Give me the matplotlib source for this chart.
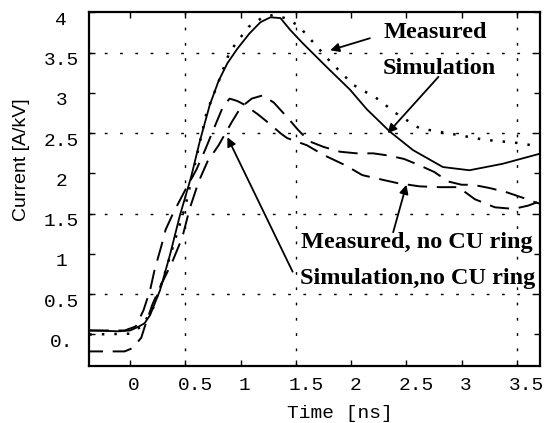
import matplotlib.pyplot as plt
from matplotlib.transforms import ScaledTranslation

# time axis [ns] and current [A/kV] for the four traces
sim_t = [-0.37, -0.1, 0.0, 0.08, 0.13, 0.18, 0.27, 0.36, 0.45, 0.55, 0.63, 0.72,
         0.8, 0.88, 0.97, 1.08, 1.18, 1.27, 1.36, 1.45, 1.56, 1.78, 1.99, 2.14,
         2.35, 2.56, 2.83, 3.07, 3.37, 3.72]
sim_i = [0.05, 0.04, 0.05, 0.10, 0.14, 0.24, 0.55, 0.99, 1.48, 1.95, 2.40, 2.85,
         3.15, 3.37, 3.55, 3.74, 3.88, 3.94, 3.93, 3.78, 3.62, 3.32, 3.04, 2.80,
         2.52, 2.29, 2.08, 2.04, 2.12, 2.25]

meas_t = [-0.37, 0.0, 0.1, 0.2, 0.3, 0.4, 0.5, 0.6, 0.69, 0.8, 0.9, 1.07, 1.2,
          1.3, 1.4, 1.52, 1.72, 1.81, 2.02, 2.26, 2.38, 2.62, 2.96, 3.2, 3.5, 3.73]
meas_i = [0.0, 0.01, 0.10, 0.30, 0.70, 1.15, 1.60, 2.20, 2.75, 3.14, 3.51, 3.82,
          3.94, 3.97, 3.93, 3.84, 3.53, 3.39, 3.10, 2.91, 2.77, 2.56, 2.48, 2.42,
          2.38, 2.33]

meas_nocu_t = [-0.37, -0.05, 0.05, 0.12, 0.18, 0.22, 0.28, 0.32, 0.39, 0.5, 0.6,
               0.68, 0.77, 0.84, 0.9, 0.97, 1.04, 1.16, 1.25, 1.36, 1.42, 1.6,
               1.75, 1.95, 2.1, 2.29, 2.42, 2.62, 2.8, 2.97, 3.12, 3.3, 3.47,
               3.6, 3.72]
meas_nocu_i = [0.05, 0.05, 0.10, 0.30, 0.55, 0.80, 1.09, 1.30, 1.51, 1.80, 2.05,
               2.30, 2.60, 2.83, 2.93, 2.90, 2.85, 2.73, 2.63, 2.50, 2.44, 2.35,
               2.23, 2.10, 1.98, 1.92, 1.88, 1.84, 1.83, 1.83, 1.68, 1.58, 1.56,
               1.60, 1.66]

sim_nocu_t = [-0.37, -0.05, 0.02, 0.1, 0.13, 0.2, 0.27, 0.38, 0.47, 0.54, 0.62,
              0.7, 0.8, 0.92, 1.0, 1.1, 1.2, 1.3, 1.42, 1.52, 1.62, 1.75, 1.9,
              2.05, 2.2, 2.35, 2.48, 2.62, 2.75, 2.88, 3.0, 3.1, 3.25, 3.4, 3.55,
              3.65, 3.72]
sim_nocu_i = [-0.21, -0.21, -0.17, -0.04, 0.09, 0.37, 0.59, 0.90, 1.20, 1.57,
              1.90, 2.15, 2.35, 2.64, 2.82, 2.93, 2.97, 2.88, 2.70, 2.54, 2.40,
              2.33, 2.27, 2.25, 2.25, 2.22, 2.18, 2.10, 2.02, 1.90, 1.86, 1.86,
              1.82, 1.77, 1.70, 1.65, 1.62]

x_ticks = [0, 0.5, 1, 1.5, 2, 2.5, 3, 3.5]
x_labels = ["0", "0.5", "1", "1.5", "2", "2.5", "3", "3.5"]
y_ticks = [0, 0.5, 1, 1.5, 2, 2.5, 3, 3.5, 4]
y_labels = ["0.", "0.5", "1", "1.5", "2", "2.5", "3", "3.5", "4"]
grid_vals = [0.5, 1.5, 2.5, 3.5]

mono = "Liberation Mono"
bold_serif = dict(family="Liberation Serif", weight="bold", size=17.5)

fig = plt.figure(figsize=(5.45, 4.23), dpi=100)
ax = fig.add_axes([0.1633, 0.1348, 0.8275, 0.8369])
ax.set_xlim(-0.373, 3.709)
ax.set_ylim(-0.391, 4.006)

# dotted grid only at the half-unit positions
for g in grid_vals:
    ax.axhline(g, color="k", lw=1.0, ls=(0, (2, 9)), zorder=0)
for g in [0.5, 1.5, 3.5]:
    ax.axvline(g, color="k", lw=1.0, ls=(0, (2, 9)), zorder=0)

ax.plot(sim_t, sim_i, color="k", lw=1.3)
ax.plot(meas_t, meas_i, color="k", lw=1.8, ls=(0, (1, 4)))
ax.plot(meas_nocu_t, meas_nocu_i, color="k", lw=1.4, ls=(0, (10, 5)))
ax.plot(sim_nocu_t, sim_nocu_i, color="k", lw=1.4, ls=(3, (10, 5)))

for s in ax.spines.values():
    s.set_linewidth(1.6)
ax.tick_params(direction="in", top=True, right=True, length=4, width=1)
ax.set_xticks(x_ticks)
ax.set_xticklabels(x_labels, family=mono, size=14)
ax.set_yticks(y_ticks)
ax.set_yticklabels(y_labels, family=mono, size=14, ha="center")
ax.tick_params(axis="x", pad=8)
ax.tick_params(axis="y", pad=20)

for lab in ax.get_xticklabels():
    dx = 10 if len(lab.get_text()) > 1 else 4
    lab.set_transform(lab.get_transform() +
                      ScaledTranslation(dx / 100, 0, fig.dpi_scale_trans))
for lab in ax.get_yticklabels():
    lab.set_transform(lab.get_transform() +
                      ScaledTranslation(0, -6 / 100, fig.dpi_scale_trans))

fig.text(22 / 545, 1 - 160 / 423, "Current [A/kV]", rotation=90,
         ha="center", va="center", family="Liberation Sans", size=14)
fig.text(340 / 545, 1 - 413 / 423, "Time [ns]", ha="center", va="center",
         family=mono, size=14)

arrow = dict(arrowstyle="-|>", color="k", lw=1.3, mutation_scale=13,
             shrinkA=0, shrinkB=0)
ax.annotate("", xy=(1.81, 3.53), xytext=(2.17, 3.68), arrowprops=arrow)
ax.annotate("", xy=(2.33, 2.50), xytext=(2.79, 3.20), arrowprops=arrow)
ax.annotate("", xy=(2.50, 1.86), xytext=(2.38, 1.27), arrowprops=arrow)
ax.annotate("", xy=(0.88, 2.45), xytext=(1.47, 0.78), arrowprops=arrow)

ax.text(2.76, 3.75, "Measured", ha="center", va="center", **bold_serif)
ax.text(2.80, 3.31, "Simulation", ha="center", va="center", **bold_serif)
ax.text(2.59, 1.14, "Measured, no CU ring", ha="center", va="center",
        **bold_serif)
ax.text(2.60, 0.70, "Simulation,no CU ring", ha="center", va="center",
        **bold_serif)

plt.savefig("out.png", dpi=100)
